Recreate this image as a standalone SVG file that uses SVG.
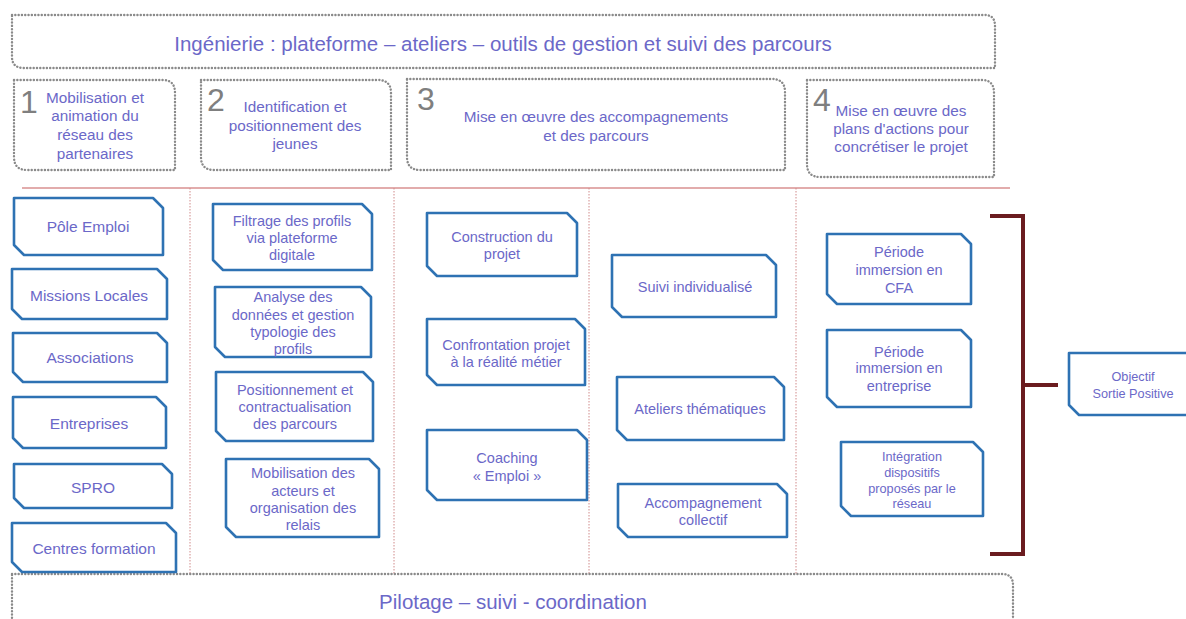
<svg xmlns="http://www.w3.org/2000/svg" width="1186" height="619" viewBox="0 0 1186 619">
<style>
.bg{fill:#ffffff}
.dot{fill:#ffffff;stroke:#8a8a8a;stroke-width:2.4;stroke-dasharray:0.1 3.2;stroke-linecap:round}
.box{fill:#ffffff;stroke:#2e72b3;stroke-width:2.6;stroke-linejoin:round}
.sep{stroke:#d08a8a;stroke-width:1;stroke-dasharray:1.5 1.5;fill:none}
.t{font-family:"Liberation Sans",Arial,sans-serif;fill:#6b68c8;text-anchor:middle}
.num{font-family:"Liberation Sans",Arial,sans-serif;fill:#7f7f7f;font-size:32px}
.big{font-size:20.5px}
.h{font-size:15.3px}
.m{font-size:15.5px}
.s{font-size:14.5px}
.xs{font-size:12.7px}
.br{stroke:#6b1c1f;stroke-width:4;fill:none}
</style>
<rect class="bg" x="0" y="0" width="1186" height="619"/>

<g id="top-banner">
<path class="dot" d="M12,15 H985 Q995,15 995,26 V68 H24 Q12,68 12,57 Z"/>
<text class="t big" x="503" y="51">Ingénierie : plateforme – ateliers – outils de gestion et suivi des parcours</text>
</g>

<g id="header-1">
<path class="dot" d="M14,80 H163 Q175,80 175,93 V170 H27 Q14,170 14,157 Z"/>
<text class="num" x="20" y="113">1</text>
<text class="t h" x="95" y="103">Mobilisation et</text>
<text class="t h" x="95" y="121">animation du</text>
<text class="t h" x="95" y="140">réseau des</text>
<text class="t h" x="95" y="159">partenaires</text>
</g>
<g id="header-2">
<path class="dot" d="M201,80 H378 Q391,80 391,93 V170 H214 Q201,170 201,157 Z"/>
<text class="num" x="207" y="111">2</text>
<text class="t h" x="295" y="112">Identification et</text>
<text class="t h" x="295" y="131">positionnement des</text>
<text class="t h" x="295" y="149">jeunes</text>
</g>
<g id="header-3">
<path class="dot" d="M407,79 H772 Q785,79 785,92 V170 H420 Q407,170 407,157 Z"/>
<text class="num" x="417" y="110">3</text>
<text class="t h" x="596" y="122">Mise en œuvre des accompagnements</text>
<text class="t h" x="596" y="141">et des parcours</text>
</g>
<g id="header-4">
<path class="dot" d="M807,80 H982 Q994,80 994,93 V177 H820 Q807,177 807,164 Z"/>
<text class="num" x="813" y="111">4</text>
<text class="t h" x="901" y="116">Mise en œuvre des</text>
<text class="t h" x="901" y="134">plans d'actions pour</text>
<text class="t h" x="901" y="152">concrétiser le projet</text>
</g>

<g id="separators">
<line x1="22" y1="188" x2="1010" y2="188" stroke="#d89090" stroke-width="1.5"/>
<line class="sep" x1="190" y1="188" x2="190" y2="575"/>
<line class="sep" x1="394" y1="188" x2="394" y2="575"/>
<line class="sep" x1="589" y1="188" x2="589" y2="575"/>
<line class="sep" x1="796" y1="188" x2="796" y2="575"/>
</g>

<g id="bottom-banner">
<path class="dot" d="M12,574 H1002 Q1013,574 1013,585 V625 H12 Z"/>
<text class="t big" x="513" y="609">Pilotage – suivi - coordination</text>
</g>

<g id="pole-emploi">
<path class="box" d="M14,198 H153 L163,208 V255 H24 L14,245 Z"/>
<text class="t m" x="88" y="232">Pôle Emploi</text>
</g>
<g id="missions-locales">
<path class="box" d="M12,269 H157 L167,279 V319 H22 L12,309 Z"/>
<text class="t m" x="89" y="301">Missions Locales</text>
</g>
<g id="associations">
<path class="box" d="M13,333 H157 L167,343 V382 H23 L13,372 Z"/>
<text class="t m" x="90" y="363">Associations</text>
</g>
<g id="entreprises">
<path class="box" d="M13,397 H156 L166,407 V448 H23 L13,438 Z"/>
<text class="t m" x="89" y="429">Entreprises</text>
</g>
<g id="spro">
<path class="box" d="M14,464 H162 L172,474 V508 H24 L14,498 Z"/>
<text class="t m" x="93" y="493">SPRO</text>
</g>
<g id="centres-formation">
<path class="box" d="M12,523 H166 L176,533 V572 H22 L12,562 Z"/>
<text class="t m" x="94" y="554">Centres formation</text>
</g>

<g id="filtrage">
<path class="box" d="M213,204 H362 L372,214 V270 H223 L213,260 Z"/>
<text class="t s" x="292" y="226">Filtrage des profils</text>
<text class="t s" x="292" y="243">via plateforme</text>
<text class="t s" x="292" y="260">digitale</text>
</g>
<g id="analyse">
<path class="box" d="M215,287 H361 L371,297 V357 H225 L215,347 Z"/>
<text class="t s" x="293" y="302">Analyse des</text>
<text class="t s" x="293" y="320">données et gestion</text>
<text class="t s" x="293" y="337">typologie des</text>
<text class="t s" x="293" y="354">profils</text>
</g>
<g id="positionnement">
<path class="box" d="M216,372 H363 L373,382 V441 H226 L216,431 Z"/>
<text class="t s" x="295" y="395">Positionnement et</text>
<text class="t s" x="295" y="412">contractualisation</text>
<text class="t s" x="295" y="429">des parcours</text>
</g>
<g id="mobilisation-acteurs">
<path class="box" d="M226,459 H369 L379,469 V537 H236 L226,527 Z"/>
<text class="t s" x="303" y="478">Mobilisation des</text>
<text class="t s" x="303" y="496">acteurs et</text>
<text class="t s" x="303" y="513">organisation des</text>
<text class="t s" x="303" y="530">relais</text>
</g>

<g id="construction">
<path class="box" d="M427,213 H567 L577,223 V276 H437 L427,266 Z"/>
<text class="t s" x="502" y="242">Construction du</text>
<text class="t s" x="502" y="259">projet</text>
</g>
<g id="confrontation">
<path class="box" d="M427,319 H575 L585,329 V385 H437 L427,375 Z"/>
<text class="t s" x="506" y="350">Confrontation projet</text>
<text class="t s" x="506" y="367">à la réalité métier</text>
</g>
<g id="coaching">
<path class="box" d="M427,430 H577 L587,440 V500 H437 L427,490 Z"/>
<text class="t s" x="507" y="463">Coaching</text>
<text class="t s" x="507" y="481">« Emploi »</text>
</g>

<g id="suivi">
<path class="box" d="M612,255 H766 L776,265 V317 H622 L612,307 Z"/>
<text class="t s" x="695" y="292">Suivi individualisé</text>
</g>
<g id="ateliers">
<path class="box" d="M617,377 H774 L784,387 V440 H627 L617,430 Z"/>
<text class="t s" x="700" y="414">Ateliers thématiques</text>
</g>
<g id="accompagnement">
<path class="box" d="M618,484 H777 L787,494 V537 H628 L618,527 Z"/>
<text class="t s" x="703" y="508">Accompagnement</text>
<text class="t s" x="703" y="525">collectif</text>
</g>

<g id="periode-cfa">
<path class="box" d="M827,234 H961 L971,244 V304 H837 L827,294 Z"/>
<text class="t s" x="899" y="257">Période</text>
<text class="t s" x="899" y="275">immersion en</text>
<text class="t s" x="899" y="293">CFA</text>
</g>
<g id="periode-entreprise">
<path class="box" d="M827,330 H961 L971,340 V407 H837 L827,397 Z"/>
<text class="t s" x="899" y="357">Période</text>
<text class="t s" x="899" y="373">immersion en</text>
<text class="t s" x="899" y="391">entreprise</text>
</g>
<g id="integration">
<path class="box" d="M841,442 H973 L983,452 V516 H851 L841,506 Z"/>
<text class="t xs" x="912" y="461">Intégration</text>
<text class="t xs" x="912" y="477">dispositifs</text>
<text class="t xs" x="912" y="493">proposés par le</text>
<text class="t xs" x="912" y="508">réseau</text>
</g>

<g id="connectors">
<path class="br" d="M990,216 H1023 V554 H990 M1023,385 H1058"/>
</g>

<g id="objectif">
<path class="box" d="M1069,353 H1192 V415 H1079 L1069,405 Z"/>
<text class="t xs" x="1133" y="381">Objectif</text>
<text class="t xs" x="1133" y="398">Sortie Positive</text>
</g>
</svg>
